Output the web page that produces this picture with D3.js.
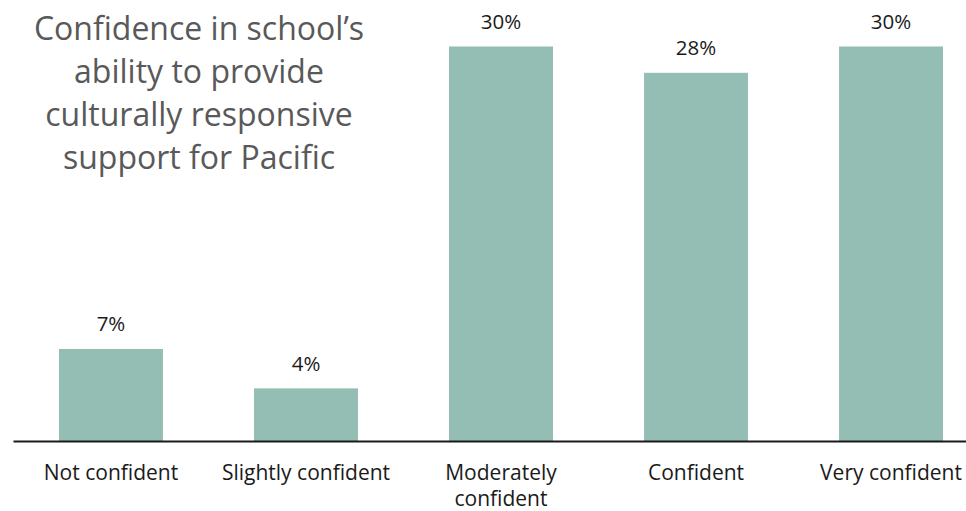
<!DOCTYPE html>
<html>
<head>
<meta charset="utf-8">
<script src="https://cdn.jsdelivr.net/npm/d3@7"></script>
<style>
  html, body { margin: 0; padding: 0; background: #ffffff; }
  svg { display: block; }
</style>
</head>
<body>
<svg id="chart" width="966" height="511"></svg>
<script>
// Survey responses: confidence in culturally responsive support for Pacific learners
const categories = ["Not confident", "Slightly confident", "Moderately confident", "Confident", "Very confident"];
const values = [7, 4, 30, 28, 30];
const valueLabels = ["7%", "4%", "30%", "28%", "30%"];
const titleLines = ["Confidence in school\u2019s", "ability to provide", "culturally responsive", "support for Pacific"];

const width = 966, height = 511;
const baseline = 441;
const FONT = "'Open Sans', 'Noto Sans', sans-serif";

const svg = d3.select("#chart");

// The category band runs a little past the right edge of the canvas
const x = d3.scaleBand()
  .domain(categories)
  .range([13, 989])
  .paddingInner(0.467)
  .paddingOuter(0.236);

const y = d3.scaleLinear()
  .domain([0, d3.max(values)])
  .range([baseline, 46.5]);

const data = categories.map((c, i) => ({ cat: c, value: values[i], label: valueLabels[i] }));

// Bars
svg.append("g")
  .selectAll("rect")
  .data(data)
  .join("rect")
  .attr("x", d => x(d.cat))
  .attr("y", d => y(d.value))
  .attr("width", x.bandwidth())
  .attr("height", d => y(0) - y(d.value))
  .attr("fill", "#94bdb3");

// Value labels above bars
svg.append("g")
  .selectAll("text")
  .data(data)
  .join("text")
  .attr("x", d => x(d.cat) + x.bandwidth() / 2)
  .attr("y", d => y(d.value) - 17.5)
  .attr("text-anchor", "middle")
  .attr("font-family", FONT)
  .attr("font-size", 20.5)
  .attr("fill", "#1a1a1a")
  .text(d => d.label);

// Category axis (line only, no ticks)
const xAxis = d3.axisBottom(x).tickSize(0).tickPadding(0).tickFormat("");
const axisG = svg.append("g")
  .attr("transform", `translate(0,${baseline})`)
  .call(xAxis);
axisG.select(".domain")
  .attr("stroke", "#1a1a1a")
  .attr("stroke-width", 2);

// Wrapped category labels
function wrapWords(text, maxWidth, measure) {
  const words = text.split(" ");
  const lines = [];
  let line = [];
  words.forEach(w => {
    const trial = line.concat(w).join(" ");
    if (line.length && measure(trial) > maxWidth) {
      lines.push(line.join(" "));
      line = [w];
    } else {
      line.push(w);
    }
  });
  if (line.length) lines.push(line.join(" "));
  return lines;
}

const LABEL_SIZE = 21;
const measurer = svg.append("text")
  .attr("font-family", FONT)
  .attr("font-size", LABEL_SIZE)
  .attr("visibility", "hidden");
const measure = s => { measurer.text(s); return measurer.node().getComputedTextLength(); };

const catLabels = svg.append("g");
data.forEach(d => {
  const cx = x(d.cat) + x.bandwidth() / 2;
  const lines = wrapWords(d.cat, 188, measure);
  const t = catLabels.append("text")
    .attr("x", cx)
    .attr("y", 480)
    .attr("text-anchor", "middle")
    .attr("font-family", FONT)
    .attr("font-size", LABEL_SIZE)
    .attr("fill", "#1a1a1a");
  lines.forEach((ln, i) => {
    t.append("tspan")
      .attr("x", cx)
      .attr("dy", i === 0 ? 0 : 26)
      .text(ln);
  });
});
measurer.remove();

// Title block
const title = svg.append("text")
  .attr("x", 199)
  .attr("y", 39.5)
  .attr("text-anchor", "middle")
  .attr("font-family", FONT)
  .attr("font-size", 32)
  .attr("fill", "#595959");
titleLines.forEach((ln, i) => {
  title.append("tspan")
    .attr("x", 199)
    .attr("dy", i === 0 ? 0 : 43)
    .text(ln);
});
</script>
</body>
</html>
